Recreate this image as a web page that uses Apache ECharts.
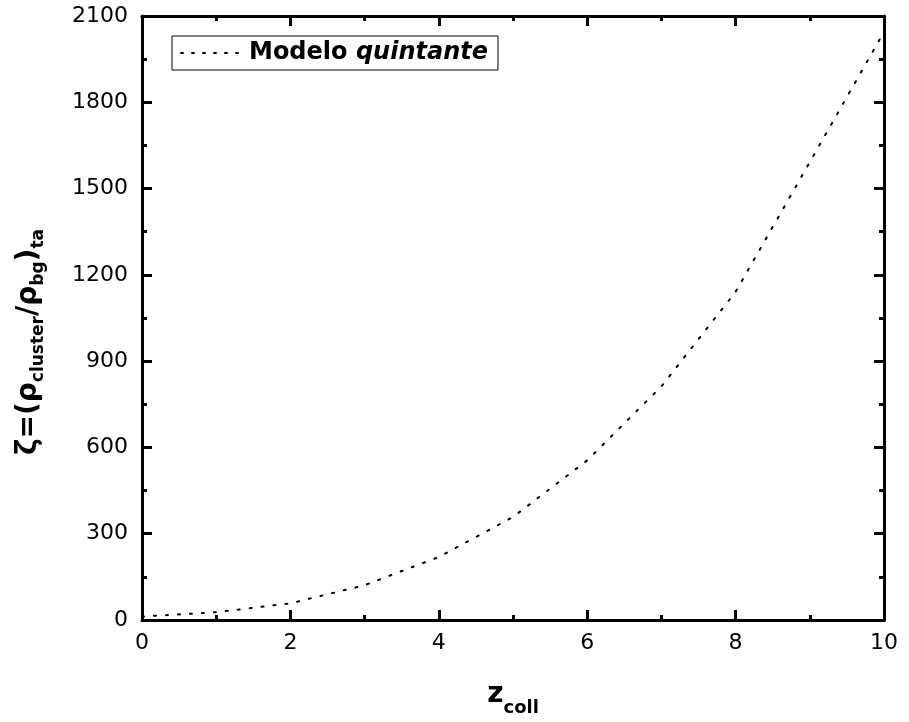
<!DOCTYPE html>
<html>
<head>
<meta charset="utf-8">
<script src="https://cdn.jsdelivr.net/npm/echarts@6/dist/echarts.min.js"></script>
<style>html,body{margin:0;padding:0;background:#fff}#c{width:909px;height:722px}</style>
</head>
<body>
<div id="c"></div>
<script>
const zColl = [0, 1, 2, 3, 4, 5, 6, 7, 8, 9, 10];
const zeta = [12, 27, 58, 121, 219, 358, 555, 812, 1141, 1592, 2045];
const seriesName = 'Modelo quintante';
const xTicks = [0, 2, 4, 6, 8, 10];
const yTicks = [0, 300, 600, 900, 1200, 1500, 1800, 2100];

const FONT = 'DejaVu Sans';
const chart = echarts.init(document.getElementById('c'));
const axisCommon = {
  axisLine: {show: true, onZero: false, lineStyle: {color: '#000', width: 3}},
  axisTick: {show: true, inside: true, length: 10, lineStyle: {color: '#000', width: 3}},
  minorTick: {show: true, splitNumber: 2, length: 5, lineStyle: {color: '#000', width: 3}},
  splitLine: {show: false}
};
const data = zColl.map((x, i) => [x, zeta[i]]);
chart.setOption({
  animation: false,
  backgroundColor: '#fff',
  grid: {left: 142, right: 25, top: 16, bottom: 101},
  legend: {
    left: 172, top: 36,
    orient: 'horizontal',
    borderColor: '#000', borderWidth: 1, borderRadius: 0,
    padding: [5, 10, 5, 8],
    itemWidth: 63, itemHeight: 26, itemGap: 10,
    data: [{name: seriesName}],
    itemStyle: {color: 'transparent', borderWidth: 0, opacity: 0},
    lineStyle: {color: '#000', width: 2, type: [2, 9], cap: 'round'},
    formatter: () => '{b|Modelo }{i|quintante}',
    textStyle: {
      fontFamily: FONT, fontSize: 24, color: '#000',
      rich: {
        b: {fontFamily: FONT, fontSize: 24, fontWeight: 'bold', color: '#000'},
        i: {fontFamily: FONT, fontSize: 24, fontWeight: 'bold', fontStyle: 'italic', color: '#000'}
      }
    }
  },
  xAxis: [
    Object.assign({}, axisCommon, {
      type: 'value', position: 'bottom', min: 0, max: 10, interval: 2,
      axisLabel: {color: '#000', fontFamily: FONT, fontSize: 22, margin: 12,
        customValues: xTicks},
      name: '{m|z}{s|coll}',
      nameLocation: 'middle', nameGap: 59,
      nameTextStyle: {
        rich: {
          m: {fontFamily: FONT, fontSize: 28, fontWeight: 'bold', color: '#000', lineHeight: 32},
          s: {fontFamily: FONT, fontSize: 18, fontWeight: 'bold', color: '#000', lineHeight: 18, padding: [26, 0, 0, 0]}
        }
      }
    }),
    Object.assign({}, axisCommon, {
      type: 'value', position: 'top', min: 0, max: 10, interval: 2,
      axisLabel: {show: false}
    })
  ],
  yAxis: [
    Object.assign({}, axisCommon, {
      type: 'value', position: 'left', min: 0, max: 2100, interval: 300,
      axisLabel: {color: '#000', fontFamily: FONT, fontSize: 22, margin: 14,
        formatter: v => String(v), customValues: yTicks},
      name: '{m|ζ=(ρ}{s|cluster}{m|/ρ}{s|bg}{m|)}{s|ta}',
      nameLocation: 'middle', nameGap: 96, nameRotate: 90,
      nameTextStyle: {
        padding: [0, 48, 0, 0],
        rich: {
          m: {fontFamily: FONT, fontSize: 28, fontWeight: 'bold', color: '#000', lineHeight: 34},
          s: {fontFamily: FONT, fontSize: 17, fontWeight: 'bold', color: '#000', lineHeight: 17, padding: [20, 0, 0, 0]}
        }
      }
    }),
    Object.assign({}, axisCommon, {
      type: 'value', position: 'right', min: 0, max: 2100, interval: 300,
      axisLabel: {show: false}
    })
  ],
  series: [{
    name: seriesName,
    type: 'line',
    xAxisIndex: 0, yAxisIndex: 0,
    data: data,
    showSymbol: false, symbol: 'none',
    lineStyle: {color: '#000', width: 2, type: [2, 10], cap: 'round'},
    itemStyle: {color: '#000'}
  }]
});
</script>
</body>
</html>
